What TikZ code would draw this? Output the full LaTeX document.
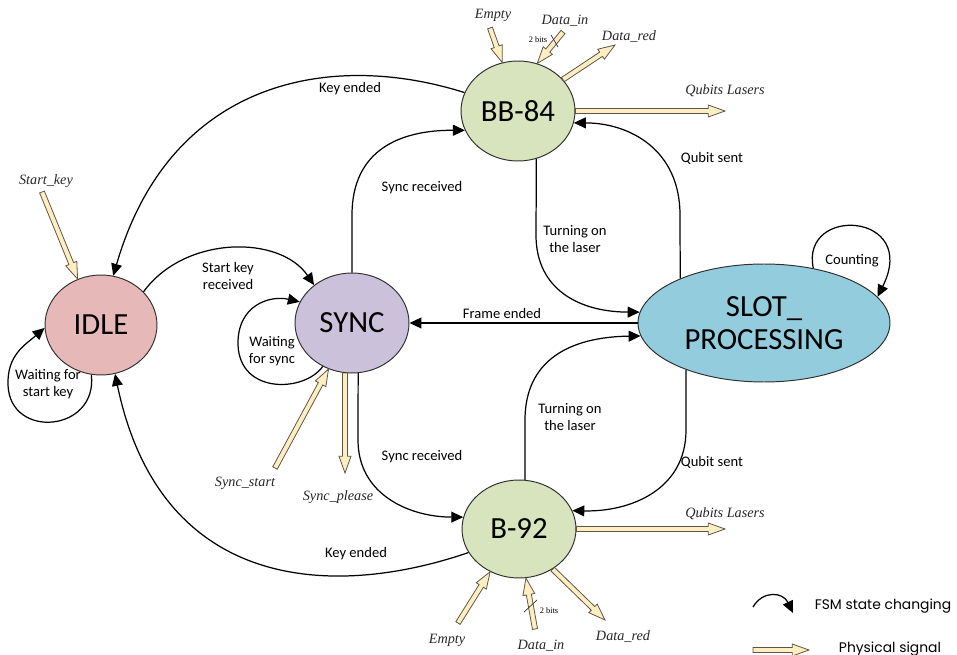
\documentclass[tikz,border=0pt]{standalone}
\usepackage{fontspec}
\setmainfont{Carlito}
\newfontfamily\sigfont{Liberation Serif}
\newfontfamily\legfont{Poppins}
\usetikzlibrary{shapes.geometric,arrows.meta,calc}

\definecolor{idlefill}{HTML}{E6B9B8}
\definecolor{syncfill}{HTML}{CCC1DA}
\definecolor{bbfill}{HTML}{D7E4BD}
\definecolor{slotfill}{HTML}{93CDDD}
\definecolor{sigfill}{HTML}{FFEEC2}
\definecolor{sigedge}{HTML}{5E5545}
\definecolor{stateedge}{HTML}{303030}

\tikzset{
  state/.style={ellipse, draw=stateedge, line width=0.55pt, inner sep=0pt,
    font=\fontsize{17.5}{19}\selectfont, align=center},
  lbl/.style={font=\fontsize{8.3}{9.8}\selectfont, align=center, inner sep=0pt},
  siglbl/.style={font=\sigfont\itshape\fontsize{8.1}{9}\selectfont, inner sep=0pt, text=black!85},
  bitlbl/.style={font=\sigfont\fontsize{4.8}{5}\selectfont, inner sep=0pt},
  leglbl/.style={font=\legfont\fontsize{7.9}{9}\selectfont, inner sep=0pt},
  fsm/.style={line width=0.7pt, -{Triangle[length=6.8pt,width=6.2pt]}},
  sigbody/.style={fill=sigfill, draw=sigedge, line width=0.45pt, line join=miter},
  buswidth/.style={line width=0.4pt, draw=black!80},
}

% hollow "physical signal" arrow from #1 to #2
\newcommand\sigshaft{1.45pt}
\newcommand\sighalf{3.4pt}
\newcommand\siglen{9.5pt}
\newcommand\sigarrow[2]{%
  \path (#1) coordinate (sa) (#2) coordinate (sb);
  \path ($(sb)!\siglen!(sa)$) coordinate (sh);
  \filldraw[sigbody] ($(sa)!\sigshaft!90:(sb)$) -- ($(sh)!\sigshaft!90:(sb)$)
    -- ($(sh)!\sighalf!90:(sb)$) -- (sb) -- ($(sh)!\sighalf!-90:(sb)$)
    -- ($(sh)!\sigshaft!-90:(sb)$) -- ($(sa)!\sigshaft!-90:(sb)$) -- cycle;
}

\begin{document}
\begin{tikzpicture}[x=0.02cm, y=-0.02cm]
\useasboundingbox (0,0) rectangle (957,655);

% states
\node[state, fill=idlefill, minimum width=2.24cm, minimum height=2.0cm] (idle) at (101,325) {IDLE};
\node[state, fill=syncfill, minimum width=2.28cm, minimum height=2.0cm] (sync) at (352,323) {SYNC};
\node[state, fill=bbfill, minimum width=2.28cm, minimum height=2.0cm] (bb84) at (518,111) {BB-84};
\node[state, fill=bbfill, minimum width=2.28cm, minimum height=1.96cm] (b92) at (519,529) {B-92};
\node[state, fill=slotfill, minimum width=5.04cm, minimum height=2.36cm] (slot) at (764,323) {SLOT\_\\PROCESSING};

% state transitions
\draw[fsm] (bb84.161) .. controls (330,50) and (170,80) .. (idle.76);
\draw[fsm] (idle.38) .. controls (185,235) and (280,235) .. (sync.135);
\draw[fsm] (idle.259) .. controls (98,432) and (10,440) .. (8,385)
  .. controls (7,355) and (25,345) .. (idle.183);
\draw[fsm] (sync.236) .. controls (305,392) and (240,395) .. (238,345)
  .. controls (237,305) and (270,295) .. (sync.158);
\draw[fsm] (sync.north) -- (352,215) .. controls (352,150) and (400,130) .. (bb84.200);
\draw[fsm] (bb84.-69) -- (536,235) .. controls (536,290) and (580,312) .. (slot.175);
\draw[fsm] (slot.west) -- (sync.east);
\draw[fsm] (slot.152) -- (680,215) .. controls (680,150) and (630,123) .. (bb84.-12);
\draw[fsm] (sync.-83) -- (358,440) .. controls (358,495) and (410,517) .. (b92.168);
\draw[fsm] (b92.83) -- (525,420) .. controls (525,360) and (570,337) .. (slot.186);
\draw[fsm] (slot.211) -- (686,430) .. controls (686,490) and (630,512) .. (b92.19);
\draw[fsm] (b92.205) .. controls (330,600) and (160,590) .. (idle.-74);
\draw[fsm] (slot.48) .. controls (800,205) and (920,212) .. (slot.13);

% transition labels
\node[lbl] (l1) at (350,89) {Key ended};
\node[lbl] (l2) at (228,276) {Start key\\received};
\node[lbl] (l3) at (48,384) {Waiting for\\start key};
\node[lbl] (l4) at (272,351) {Waiting\\for sync};
\node[lbl] (l5) at (422,188) {Sync received};
\node[lbl] (l6) at (575,239) {Turning on\\the laser};
\node[lbl] (l7) at (502,313) {Frame ended};
\node[lbl] (l8) at (712,158) {Qubit sent};
\node[lbl] (l9) at (852,261) {Counting};
\node[lbl] (l10) at (422,457) {Sync received};
\node[lbl] (l11) at (570,417) {Turning on\\the laser};
\node[lbl] (l12) at (712,462) {Qubit sent};
\node[lbl] (l13) at (356,554) {Key ended};

% physical signals
\coordinate (e1t) at (490,28);
\coordinate (d1t) at (563,32);
\coordinate (r1h) at (615,45);
\coordinate (q1h) at (725,111);
\coordinate (skt) at (42,192);
\coordinate (sst) at (275,468);
\coordinate (sph) at (345,473);
\coordinate (q2h) at (725,529);
\coordinate (e2t) at (458,623);
\coordinate (d2t) at (535,629);
\coordinate (r2h) at (605,620);

\sigarrow{e1t}{bb84.108}
\sigarrow{d1t}{bb84.68}
\sigarrow{bb84.35}{r1h}
\sigarrow{bb84.east}{q1h}
\sigarrow{skt}{idle.117}
\sigarrow{sst}{sync.243}
\sigarrow{sync.262}{sph}
\sigarrow{b92.east}{q2h}
\sigarrow{e2t}{b92.236}
\sigarrow{d2t}{b92.278}
\sigarrow{b92.310}{r2h}

% bus width marks
\draw[buswidth] (551,35) -- (558,47);
\draw[buswidth] (524,612) -- (537,600);
\node[bitlbl] (bw1) at (538,40) {2 bits};
\node[bitlbl] (bw2) at (549,611) {2 bits};

% signal names
\node[siglbl] (s1) at (493,15) {Empty};
\node[siglbl] (s2) at (565,21) {Data\_in};
\node[siglbl] (s3) at (629,36) {Data\_red};
\node[siglbl] (s4) at (725,91) {Qubits Lasers};
\node[siglbl] (s5) at (46,181) {Start\_key};
\node[siglbl] (s6) at (245,483) {Sync\_start};
\node[siglbl] (s7) at (338,497) {Sync\_please};
\node[siglbl] (s8) at (725,514) {Qubits Lasers};
\node[siglbl] (s9) at (447,640) {Empty};
\node[siglbl] (s10) at (541,646) {Data\_in};
\node[siglbl] (s11) at (623,636) {Data\_red};

% legend
\coordinate (lga) at (753,607);
\coordinate (lgb) at (793,613);
\draw[fsm] (lga) .. controls (763,590) and (783,592) .. (lgb);
\node[leglbl] (lg1) at (883,606) {FSM state changing};
\coordinate (lgc) at (753,650);
\coordinate (lgd) at (809,650);
\sigarrow{lgc}{lgd}
\node[leglbl] (lg2) at (890,649) {Physical signal};
\end{tikzpicture}
\end{document}
